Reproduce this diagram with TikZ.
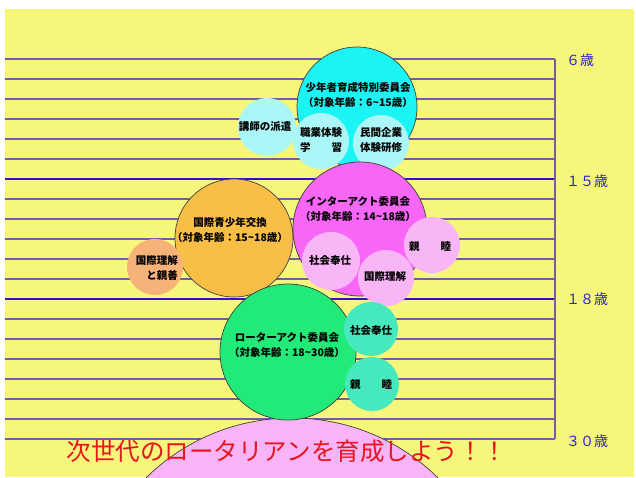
\documentclass[tikz,border=0pt]{standalone}
\usepackage{fontspec}
\setmainfont{Noto Sans CJK JP}
\definecolor{bgyellow}{HTML}{F6F67C}
\definecolor{gridc}{HTML}{72609E}
\definecolor{thickc}{HTML}{3412C8}
\definecolor{labblue}{HTML}{2A22C8}
\definecolor{cyanbig}{HTML}{1CF4F4}
\definecolor{lcyan}{HTML}{ABF7F7}
\definecolor{orangec}{HTML}{F9BE46}
\definecolor{salmonc}{HTML}{F7B278}
\definecolor{magentac}{HTML}{F866F8}
\definecolor{lpink}{HTML}{F8B6F6}
\definecolor{greenc}{HTML}{22EA78}
\definecolor{aquac}{HTML}{46E8BE}
\definecolor{bigpink}{HTML}{F8B4F6}
\definecolor{redtext}{HTML}{E8141E}
\begin{document}
\begin{tikzpicture}[x=1pt,y=-1pt,
  gridline/.style={draw=gridc,line width=1.2pt},
  thickline/.style={draw=thickc,line width=2.6pt},
  outl/.style={draw=black!75,line width=0.7pt},
  lab/.style={font=\fontsize{10.5}{14.5}\selectfont\bfseries,align=center,inner sep=0pt,text=black},
  agelab/.style={font=\fontsize{14}{14}\selectfont,text=labblue,anchor=west,inner sep=0pt}]
\useasboundingbox (0,0) rectangle (636,477);
\fill[white] (0,0) rectangle (636,477);
\fill[bgyellow] (5,9) rectangle (634,477);
% grid
\foreach \k in {0,...,19} { \draw[gridline] (5,{59+20*\k}) -- (555,{59+20*\k}); }
\draw[thickline] (5,179) -- (555,179);
\draw[thickline] (5,299) -- (555,299);
\draw[gridline] (555,59) -- (555,439);
% age labels
\node[agelab] (a6) at (566,60) {６歳};
\node[agelab] (a15) at (566,181) {１５歳};
\node[agelab] (a18) at (566,299) {１８歳};
\node[agelab] (a30) at (566,441) {３０歳};
% bottom big circle
\filldraw[fill=bigpink,outl] (292,626) circle (208pt);
% youth committee
\filldraw[fill=cyanbig,outl] (357,107) circle (60pt);
\fill[lcyan] (267,127) circle (29pt);
\fill[lcyan] (321,141) circle (28pt);
\fill[lcyan] (381,143) circle (28pt);
% exchange
\filldraw[fill=orangec,outl] (234,238) circle (59pt);
\fill[salmonc] (155,267) circle (28pt);
% interact
\filldraw[fill=magentac,outl] (360,229) circle (67pt);
\fill[lpink] (331,261) circle (29pt);
\fill[lpink] (432,245) circle (28pt);
\fill[lpink] (386,278) circle (28pt);
% rotaract
\filldraw[fill=greenc,outl] (288,352) circle (68pt);
\fill[aquac] (371,329) circle (27pt);
\fill[aquac] (372,384) circle (27pt);
% texts
\node[lab] (t1) at (358,95) {少年者育成特別委員会\\（対象年齢：6\textasciitilde15歳）};
\node[lab] (t2) at (265,127) {講師の派遣};
\node[lab] (t3) at (321,140) {職業体験\\学　　習};
\node[lab] (t4) at (381,140) {民間企業\\体験研修};
\node[lab] (t5) at (230,230) {国際青少年交換\\（対象年齢：15\textasciitilde18歳）};
\node[lab,align=right,anchor=east] (t6) at (178,268) {国際理解\\と親善};
\node[lab] (t7) at (358,209) {インターアクト委員会\\（対象年齢：14\textasciitilde18歳）};
\node[lab] (t8) at (330,261) {社会奉仕};
\node[lab] (t9) at (430,247) {親　　睦};
\node[lab] (t10) at (385,277) {国際理解};
\node[lab] (t11) at (287,345) {ローターアクト委員会\\（対象年齢：18\textasciitilde30歳）};
\node[lab] (t12) at (371,331) {社会奉仕};
\node[lab] (t13) at (371,385) {親　　睦};
\node[font=\fontsize{24.5}{24.5}\selectfont,text=redtext,inner sep=0pt] (slogan) at (287,451) {次世代のロータリアンを育成しよう！！};
\end{tikzpicture}
\end{document}
